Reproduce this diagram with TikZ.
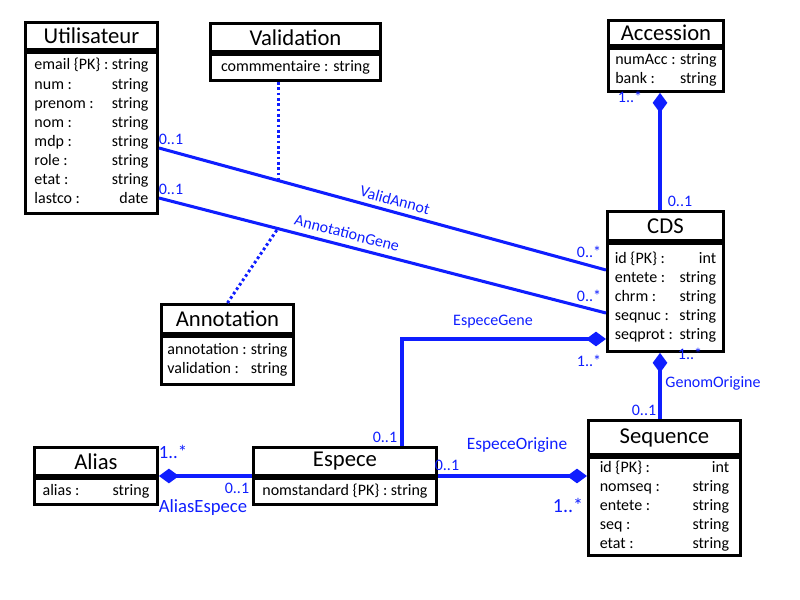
\documentclass[tikz,border=0pt]{standalone}
\usepackage{fontspec}
\setmainfont{Carlito}
\usepackage{xcolor}
\usepackage{tikz}
\usetikzlibrary{arrows.meta,calc}
\definecolor{umlblue}{RGB}{15,30,255}
\newcommand{\attlist}[2]{\begin{tabular*}{#1}{@{}l@{\extracolsep{\fill}}r@{}}#2\end{tabular*}}
\tikzset{
  ttl/.style={draw,line width=2.2pt,fill=white,inner sep=0pt,anchor=north west,font=\fontsize{17}{20}\selectfont},
  att/.style={draw,line width=2.2pt,fill=white,inner sep=0pt,anchor=north,font=\fontsize{12}{14.3}\selectfont},
  assoc/.style={draw=umlblue,line width=2.3pt},
  lnk/.style={draw=umlblue,line width=2.2pt,dash pattern=on 2pt off 2pt},
  agg/.style={{Diamond[length=15pt,width=11pt]}-},
  gga/.style={-{Diamond[length=15pt,width=11pt]}},
  mlt/.style={text=umlblue,inner sep=0pt,font=\fontsize{12}{14}\selectfont},
}
\begin{document}
\begin{tikzpicture}[x=0.75pt,y=-0.75pt]
  \useasboundingbox (0,0) rectangle (800,600);
  % classes
  \node[ttl,minimum width=99pt,minimum height=20.25pt] (util) at (24,21) {Utilisateur};
  \node[att,minimum width=99pt,minimum height=120.75pt] (util-att) at (util.south)
    {\attlist{85.5pt}{email \{PK\} : & string\\ num : & string\\ prenom : & string\\ nom : & string\\
     mdp : & string\\ role : & string\\ etat : & string\\ lastco : & date}};
  \node[ttl,minimum width=127.5pt,minimum height=21pt] (valid) at (209,22) {Validation};
  \node[att,minimum width=127.5pt,minimum height=19.5pt] (valid-att) at (valid.south) {commmentaire : string};
  \node[ttl,minimum width=86.25pt,minimum height=18.75pt] (acc) at (607,19) {Accession};
  \node[att,minimum width=86.25pt,minimum height=32.25pt] (acc-att) at (acc.south)
    {\attlist{76pt}{numAcc : & string\\ bank : & string}};
  \node[ttl,minimum width=87pt,minimum height=21.75pt] (cds) at (606,210) {CDS};
  \node[att,minimum width=87pt,minimum height=81pt] (cds-att) at (cds.south)
    {\attlist{76pt}{id \{PK\} : & int\\ entete : & string\\ chrm : & string\\ seqnuc : & string\\ seqprot : & string}};
  \node[ttl,minimum width=99pt,minimum height=21.75pt] (annot) at (160,303) {Annotation};
  \node[att,minimum width=99pt,minimum height=36pt] (annot-att) at (annot.south)
    {\attlist{90pt}{annotation : & string\\ validation : & string}};
  \node[ttl,minimum width=92.25pt,minimum height=21pt] (alias) at (33,446) {Alias};
  \node[att,minimum width=92.25pt,minimum height=19.5pt] (alias-att) at (alias.south) {\attlist{80pt}{alias : & string}};
  \node[ttl,minimum width=137.25pt,minimum height=21pt] (esp) at (252,446) {Espece};
  \node[att,minimum width=137.25pt,minimum height=19.5pt] (esp-att) at (esp.south) {nomstandard \{PK\} : string};
  \node[ttl,minimum width=114pt,minimum height=25.5pt] (seq) at (587,419) {Sequence};
  \node[att,minimum width=114pt,minimum height=73.5pt] (seq-att) at (seq.south)
    {\attlist{97pt}{id \{PK\} : & int\\ nomseq : & string\\ entete : & string\\ seq : & string\\ etat : & string}};
  % associations
  \draw[assoc] (util-att.east |- 0,148) -- coordinate[pos=0.268] (va) (cds-att.west |- 0,270);
  \draw[assoc] (util-att.east |- 0,198) -- coordinate[pos=0.266] (ag) (cds-att.west |- 0,313);
  \draw[lnk] (valid-att.south -| va) -- (va);
  \draw[lnk] (annot.north) -- (ag);
  \draw[assoc,agg] (acc-att.south -| 660,0) -- (cds.north -| 660,0);
  \draw[assoc,agg] (cds-att.west |- 0,339) -| (esp.north -| 402,0);
  \draw[assoc,agg] (cds-att.south -| 660,0) -- (seq.north -| 660,0);
  \draw[assoc,gga] (esp-att.east |- 0,476) -- (seq-att.west |- 0,476);
  \draw[assoc,agg] (alias-att.east |- 0,476) -- (esp-att.west |- 0,476);
  % labels
  \node[mlt] (va-l) at (171,139) {0..1};
  \node[mlt] (ag-l) at (171,189) {0..1};
  \node[mlt] (va-r) at (589,252) {0..*};
  \node[mlt] (ag-r) at (589,296) {0..*};
  \node[mlt,rotate=-15.2] (va-n) at (395,200) {ValidAnnot};
  \node[mlt,rotate=-14.4] (ag-n) at (347,233) {AnnotationGene};
  \node[mlt] (ac-t) at (630,97) {1..*};
  \node[mlt] (ac-b) at (680,201) {0..1};
  \node[mlt] (eg-n) at (493,322) {EspeceGene};
  \node[mlt] (eg-r) at (589,361) {1..*};
  \node[mlt] (eg-l) at (385,437) {0..1};
  \node[mlt] (go-t) at (690,354) {1..*};
  \node[mlt] (go-n) at (713,383) {GenomOrigine};
  \node[mlt] (go-b) at (644,410) {0..1};
  \node[mlt,font=\fontsize{13}{15}\selectfont] (eo-n) at (517,445) {EspeceOrigine};
  \node[mlt] (eo-l) at (447,465) {0..1};
  \node[mlt,font=\fontsize{15}{17}\selectfont] (eo-r) at (568,505) {1..*};
  \node[mlt,font=\fontsize{14}{16}\selectfont] (ae-l) at (173,452) {1..*};
  \node[mlt] (ae-r) at (237,488) {0..1};
  \node[mlt,font=\fontsize{14}{16}\selectfont] (ae-n) at (203,508) {AliasEspece};
\end{tikzpicture}
\end{document}
